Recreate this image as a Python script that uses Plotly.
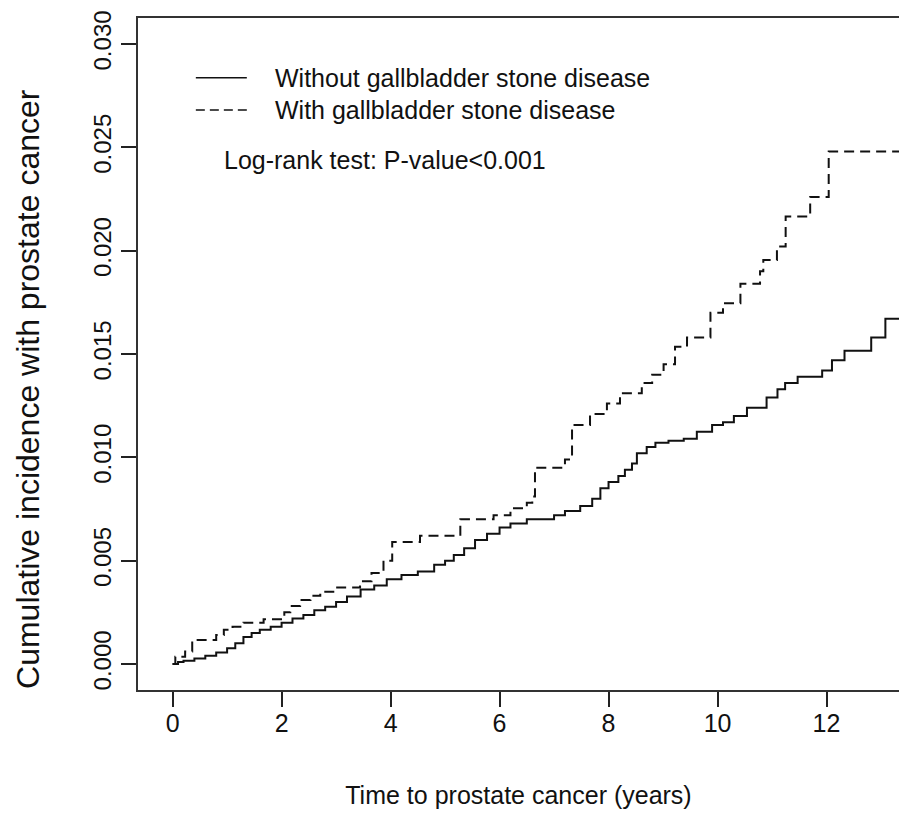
import plotly.graph_objects as go

# Without gallbladder stone disease (solid) - step function
t_without = [0, 0.1, 0.2, 0.4, 0.6, 0.8, 1.0, 1.15, 1.3, 1.45, 1.6, 1.8, 2.0, 2.2, 2.4, 2.6, 2.8,
             3.0, 3.2, 3.45, 3.7, 3.93, 4.2, 4.5, 4.8, 5.0, 5.16, 5.35, 5.55, 5.77, 6.0, 6.2, 6.5,
             7.0, 7.2, 7.48, 7.7, 7.85, 8.0, 8.18, 8.3, 8.43, 8.52, 8.7, 8.86, 9.1, 9.38, 9.62,
             9.9, 10.1, 10.3, 10.54, 10.9, 11.1, 11.24, 11.47, 11.92, 12.1, 12.33, 12.82, 13.08, 13.6]
ci_without = [0, 0.0001, 0.00015, 0.00027, 0.0004, 0.00055, 0.00076, 0.0010, 0.0013, 0.0015, 0.00165,
              0.0018, 0.0020, 0.0022, 0.00237, 0.0026, 0.00277, 0.0030, 0.00326, 0.0036, 0.0038, 0.0041,
              0.0043, 0.00447, 0.0048, 0.0050, 0.00527, 0.0056, 0.0060, 0.0063, 0.0066, 0.0068, 0.0070,
              0.0072, 0.0074, 0.00765, 0.0080, 0.0085, 0.0088, 0.0091, 0.0094, 0.0097, 0.0102, 0.0105,
              0.0107, 0.0108, 0.0109, 0.01124, 0.01157, 0.0117, 0.0120, 0.0124, 0.0129, 0.0133, 0.0136,
              0.0139, 0.0142, 0.0147, 0.01516, 0.0158, 0.0167, 0.0167]

# With gallbladder stone disease (dashed) - step function
t_with = [0, 0.05, 0.23, 0.36, 0.8, 0.94, 1.1, 1.3, 1.67, 2.05, 2.16, 2.34, 2.53, 2.71, 3.02, 3.44,
          3.65, 3.87, 4.03, 4.54, 5.28, 5.89, 6.2, 6.5, 6.6, 6.65, 7.2, 7.33, 7.66, 7.97, 8.21, 8.61,
          8.8, 9.01, 9.22, 9.44, 9.87, 10.1, 10.42, 10.78, 10.84, 11.09, 11.25, 11.7, 12.04, 13.6]
ci_with = [0, 0.00035, 0.0006, 0.00116, 0.0014, 0.00165, 0.0018, 0.0020, 0.00216, 0.0025, 0.0028,
           0.0031, 0.0033, 0.0035, 0.0037, 0.0040, 0.0044, 0.0050, 0.0059, 0.0062, 0.0070, 0.0072,
           0.00753, 0.0078, 0.0081, 0.0095, 0.0099, 0.01157, 0.0121, 0.0126, 0.0131, 0.0136, 0.0140,
           0.0145, 0.01535, 0.0158, 0.0170, 0.01745, 0.0184, 0.0190, 0.01955, 0.0202, 0.02165, 0.0226,
           0.0248, 0.0248]

x_ticks = [0, 2, 4, 6, 8, 10, 12]
y_ticks = [0.000, 0.005, 0.010, 0.015, 0.020, 0.025, 0.030]
y_ticklabels = ["0.000", "0.005", "0.010", "0.015", "0.020", "0.025", "0.030"]

legend_labels = ["Without gallbladder stone disease", "With gallbladder stone disease"]
pvalue_text = "Log-rank test: P-value<0.001"
x_title = "Time to prostate cancer (years)"
y_title = "Cumulative incidence with prostate cancer"

FONT = "Liberation Sans, Arial, sans-serif"
INK = "#111111"

fig = go.Figure()
fig.add_trace(go.Scatter(x=t_without, y=ci_without, mode="lines", line_shape="hv",
                         line=dict(color=INK, width=2), name=legend_labels[0],
                         showlegend=False))
fig.add_trace(go.Scatter(x=t_with, y=ci_with, mode="lines", line_shape="hv",
                         line=dict(color=INK, width=2, dash="10px,6px"), name=legend_labels[1],
                         showlegend=False))

# Legend drawn inside the plot (R-style)
leg_y = [0.911, 0.863]
for lbl, yy, dash in zip(legend_labels, leg_y, ["solid", "9px,5px"]):
    fig.add_shape(type="line", xref="paper", yref="paper", x0=0.076, x1=0.143, y0=yy, y1=yy,
                  line=dict(color=INK, width=1.5, dash=dash))
    fig.add_annotation(text=lbl, xref="paper", yref="paper", x=0.177, y=yy, xanchor="left",
                       yanchor="middle", showarrow=False, font=dict(family=FONT, size=25, color=INK))
fig.add_annotation(text=pvalue_text, xref="paper", yref="paper", x=0.111, y=0.789, xanchor="left",
                   yanchor="middle", showarrow=False, font=dict(family=FONT, size=25, color=INK))

# Y-axis title (placed as in the reference, slightly below the plot centre)
fig.add_annotation(text=y_title, xref="paper", yref="paper", x=-0.1445, y=0.448, xanchor="center",
                   yanchor="middle", textangle=-90, showarrow=False,
                   font=dict(family=FONT, size=32, color=INK))

fig.update_layout(
    width=899, height=821,
    margin=dict(l=138, r=0, t=18, b=131),
    paper_bgcolor="white", plot_bgcolor="white",
    font=dict(family=FONT, color=INK),
    xaxis=dict(range=[-0.635, 13.33], tickvals=x_ticks, ticks="outside", ticklen=15, tickwidth=2,
               tickcolor="#222", showline=True, linecolor="#333", linewidth=2, mirror=True,
               showgrid=False, zeroline=False, tickfont=dict(size=25, family=FONT, color=INK),
               ticklabelstandoff=-5,
               title=dict(text=x_title, font=dict(size=25, family=FONT, color=INK), standoff=50)),
    yaxis=dict(range=[-0.00126, 0.03126], tickvals=y_ticks, ticktext=y_ticklabels, ticks="outside",
               ticklen=15, tickwidth=2, tickcolor="#222", showline=True, linecolor="#333", linewidth=2,
               showgrid=False, zeroline=False, tickangle=-90,
               tickfont=dict(size=24, family=FONT, color=INK)),
)

fig.write_html("out.html", config={"displayModeBar": False},
               post_script="document.body.style.margin='0';document.body.style.overflow='hidden';")
